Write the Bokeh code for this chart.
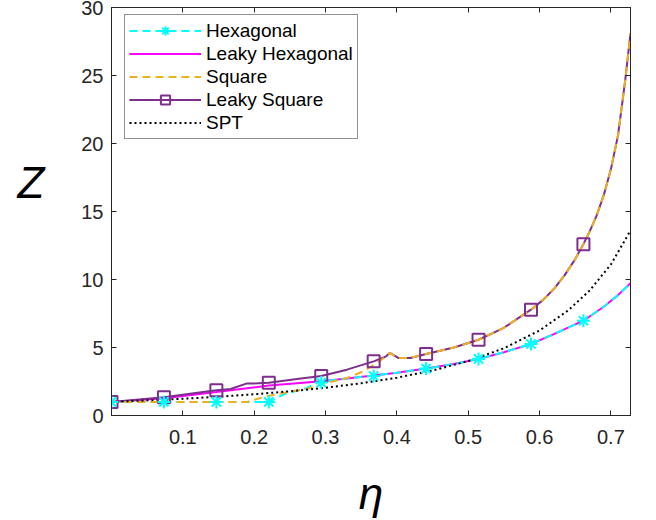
from bokeh.plotting import figure
from bokeh.models import (LinearAxis, Legend, LegendItem, FixedTicker, Range1d,
                          CustomJSTickFormatter)
from bokeh.embed import file_html
from bokeh.resources import INLINE

# ---- data ----
eta_hex = [0, 0.0735, 0.147, 0.2205, 0.225, 0.241, 0.258, 0.274, 0.29, 0.294, 0.33, 0.3675,
           0.40, 0.441, 0.48, 0.5145, 0.55, 0.588, 0.62, 0.6615, 0.69, 0.71, 0.7275]
Z_hex = [1.0, 1.0, 1.0, 1.0, 1.1, 1.54, 1.8, 2.03, 2.45, 2.5, 2.72, 2.94,
         3.15, 3.45, 3.78, 4.16, 4.65, 5.26, 5.98, 6.97, 8.0, 8.85, 9.73]

eta_lhex = [0, 0.0735, 0.147, 0.19, 0.2205, 0.26, 0.294, 0.33, 0.3675, 0.40, 0.441, 0.48,
            0.5145, 0.55, 0.588, 0.62, 0.6615, 0.69, 0.71, 0.7275]
Z_lhex = [1.0, 1.27, 1.72, 2.0, 2.2, 2.38, 2.52, 2.72, 2.94, 3.15, 3.45, 3.78,
          4.16, 4.65, 5.26, 5.98, 6.97, 8.0, 8.85, 9.73]

eta_sq = [0, 0.0735, 0.147, 0.19, 0.20, 0.218, 0.246, 0.274, 0.302, 0.33, 0.353, 0.372,
          0.385, 0.39, 0.402, 0.419, 0.441, 0.48, 0.5145, 0.55, 0.588, 0.605, 0.62, 0.635,
          0.65, 0.6615, 0.67, 0.68, 0.69, 0.70, 0.71, 0.72, 0.7275]
Z_sq = [1.0, 1.0, 1.0, 1.0, 1.15, 1.42, 1.71, 1.96, 2.4, 2.76, 3.25, 3.86,
        4.35, 4.6, 4.23, 4.23, 4.52, 5.0, 5.57, 6.45, 7.78, 8.5, 9.3, 10.3,
        11.5, 12.6, 13.5, 14.7, 16.2, 18.1, 20.6, 24.6, 28.1]

eta_lsq = [0, 0.0735, 0.147, 0.167, 0.19, 0.199, 0.2205, 0.26, 0.294, 0.33, 0.3675, 0.385,
           0.39, 0.402, 0.419, 0.441, 0.48, 0.5145, 0.55, 0.588, 0.605, 0.62, 0.635,
           0.65, 0.6615, 0.67, 0.68, 0.69, 0.70, 0.71, 0.72, 0.7275]
Z_lsq = [1.0, 1.34, 1.86, 1.95, 2.36, 2.35, 2.4, 2.69, 2.9, 3.37, 3.98, 4.35,
         4.6, 4.23, 4.23, 4.52, 5.0, 5.57, 6.45, 7.78, 8.5, 9.3, 10.3,
         11.5, 12.6, 13.5, 14.7, 16.2, 18.1, 20.6, 24.6, 28.1]

eta_spt = [0, 0.05, 0.1, 0.15, 0.2, 0.25, 0.3, 0.35, 0.4, 0.45, 0.5, 0.55, 0.6, 0.64,
           0.67, 0.7, 0.7275]
Z_spt = [1.0, 1.11, 1.23, 1.38, 1.56, 1.78, 2.04, 2.37, 2.78, 3.31, 4.0, 4.94, 6.25, 7.72,
         9.18, 11.1, 13.6]

eta_mark = [0, 0.0735, 0.147, 0.2205, 0.294, 0.3675, 0.441, 0.5145, 0.588, 0.6615]
Z_hex_mark = [1.0, 1.0, 1.0, 1.0, 2.42, 2.9, 3.45, 4.16, 5.26, 6.97]
Z_lsq_mark = [1.0, 1.34, 1.86, 2.4, 2.9, 3.98, 4.52, 5.57, 7.78, 12.6]

x_ticks = [0.1, 0.2, 0.3, 0.4, 0.5, 0.6, 0.7]
y_ticks = [0, 5, 10, 15, 20, 25, 30]

FONT = "Liberation Sans"
AX = "#262626"
CYAN = "#00FFFF"
MAGENTA = "#FF00FF"
ORANGE = "#EDB120"
PURPLE = "#7E2F8E"

p = figure(width=650, height=520,
           x_range=Range1d(0, 0.7275), y_range=Range1d(0, 30),
           output_backend="svg", toolbar_location=None,
           min_border_left=111, min_border_right=20, min_border_top=7, min_border_bottom=105,
           x_axis_location=None, y_axis_location=None)
p.xgrid.visible = False
p.ygrid.visible = False
p.outline_line_color = AX
p.outline_line_width = 1
p.background_fill_color = "white"
p.border_fill_color = "white"


def style_axis(ax, ticks, labels=True, standoff=8):
    ax.ticker = FixedTicker(ticks=ticks)
    ax.axis_line_color = AX
    ax.axis_line_width = 1
    ax.major_tick_line_color = AX
    ax.major_tick_in = 5
    ax.major_tick_out = 0
    ax.minor_tick_line_color = None
    if labels:
        ax.major_label_text_font = FONT
        ax.major_label_text_font_size = "20px"
        ax.major_label_text_color = AX
        ax.major_label_standoff = standoff
    else:
        ax.formatter = CustomJSTickFormatter(code="return '';")
        ax.major_label_text_font_size = "0px"
        ax.major_label_standoff = 0


xb = LinearAxis(axis_label="η")
style_axis(xb, x_ticks, True, 14)
xb.axis_label_text_font = FONT
xb.axis_label_text_font_size = "44px"
xb.axis_label_text_font_style = "italic"
xb.axis_label_text_color = "black"
xb.axis_label_standoff = 22
p.add_layout(xb, "below")

yl = LinearAxis(axis_label="Z\n")
style_axis(yl, y_ticks, True, 8)
yl.axis_label_text_font = FONT
yl.axis_label_text_font_size = "44px"
yl.axis_label_text_font_style = "italic"
yl.axis_label_text_color = "black"
yl.axis_label_orientation = "horizontal"
yl.axis_label_standoff = 34
p.add_layout(yl, "left")

xt = LinearAxis()
style_axis(xt, x_ticks, False)
p.add_layout(xt, "above")
yr = LinearAxis()
style_axis(yr, y_ticks, False)
p.add_layout(yr, "right")

# lines
r_lhex = p.line(eta_lhex, Z_lhex, line_color=MAGENTA, line_width=2)
r_lsq = p.line(eta_lsq, Z_lsq, line_color=PURPLE, line_width=2)
r_hex = p.line(eta_hex, Z_hex, line_color=CYAN, line_width=2, line_dash="8 5")
r_sq = p.line(eta_sq, Z_sq, line_color=ORANGE, line_width=2, line_dash="8 5")
r_spt = p.line(eta_spt, Z_spt, line_color="black", line_width=2, line_dash="2 3")
m_lsq = p.scatter(eta_mark, Z_lsq_mark, marker="square", size=12, fill_color=None,
                  line_color=PURPLE, line_width=2)
m_hex = p.scatter(eta_mark, Z_hex_mark, marker="asterisk", size=13,
                  line_color=CYAN, line_width=2)

legend = Legend(items=[
    LegendItem(label="Hexagonal", renderers=[r_hex, m_hex]),
    LegendItem(label="Leaky Hexagonal", renderers=[r_lhex]),
    LegendItem(label="Square", renderers=[r_sq]),
    LegendItem(label="Leaky Square", renderers=[r_lsq, m_lsq]),
    LegendItem(label="SPT", renderers=[r_spt]),
], location=(13, 276))
legend.margin = 0
legend.padding = 4
legend.spacing = 0
legend.glyph_width = 72
legend.glyph_height = 23
legend.label_height = 23
legend.label_standoff = 5
legend.label_text_font = FONT
legend.label_text_font_size = "19px"
legend.label_text_color = "black"
legend.border_line_color = AX
legend.border_line_width = 1
legend.background_fill_color = "white"
legend.background_fill_alpha = 1
p.add_layout(legend, "center")

open("out.html", "w").write(file_html(p, INLINE))
